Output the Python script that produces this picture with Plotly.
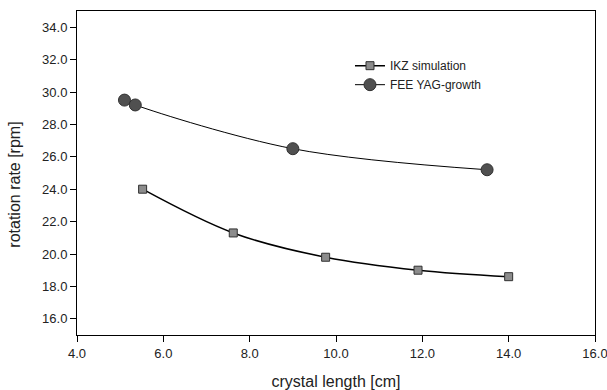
import plotly.graph_objects as go

ikz_x = [5.52, 7.62, 9.76, 11.9, 14.0]
ikz_y = [24.0, 21.3, 19.8, 19.0, 18.6]
fee_x = [5.1, 5.35, 9.0, 13.5]
fee_y = [29.5, 29.2, 26.5, 25.2]

FONT = "Liberation Sans, Arial"
TXT = "#222"

fig = go.Figure()
fig.add_trace(go.Scatter(
    x=ikz_x, y=ikz_y, mode="lines+markers", name="IKZ simulation",
    line=dict(color="black", width=1.5, shape="spline"),
    marker=dict(symbol="square", size=8, color="#8c8c8c", line=dict(color="#303030", width=1)),
))
fig.add_trace(go.Scatter(
    x=fee_x, y=fee_y, mode="lines+markers", name="FEE YAG-growth",
    line=dict(color="black", width=1, shape="spline"),
    marker=dict(symbol="circle", size=12, color="#505050", line=dict(color="#303030", width=1)),
))

axis_common = dict(
    showline=True, linecolor="black", linewidth=1, mirror=True, automargin=False,
    ticks="outside", ticklen=6, tickcolor="black", showgrid=False, zeroline=False,
    tickformat=".1f", tickfont=dict(family=FONT, size=13, color=TXT),
    ticklabeloverflow="allow",
)
fig.update_xaxes(range=[4, 16], dtick=2, tick0=4, **axis_common,
                 title=dict(text="crystal length [cm]", font=dict(family=FONT, size=16, color=TXT), standoff=16))
fig.update_yaxes(range=[15, 35], dtick=2, tick0=16, **axis_common)

fig.add_annotation(text="rotation rate [rpm]", xref="paper", yref="paper",
                   x=-0.1197, y=0.464, xanchor="center", yanchor="middle",
                   textangle=-90, showarrow=False,
                   font=dict(family=FONT, size=16, color=TXT))

fig.update_layout(
    width=607, height=390,
    margin=dict(l=77, r=12, t=11, b=55),
    plot_bgcolor="white", paper_bgcolor="white",
    showlegend=True,
    legend=dict(x=0.527, y=0.876, xanchor="left", yanchor="top", bgcolor="rgba(0,0,0,0)",
                font=dict(family=FONT, size=12, color=TXT),
                tracegroupgap=0, itemsizing="trace"),
)
fig.write_html("out.html", config={"displayModeBar": False},
               post_script="document.body.style.margin='0';document.body.style.overflow='hidden';")
